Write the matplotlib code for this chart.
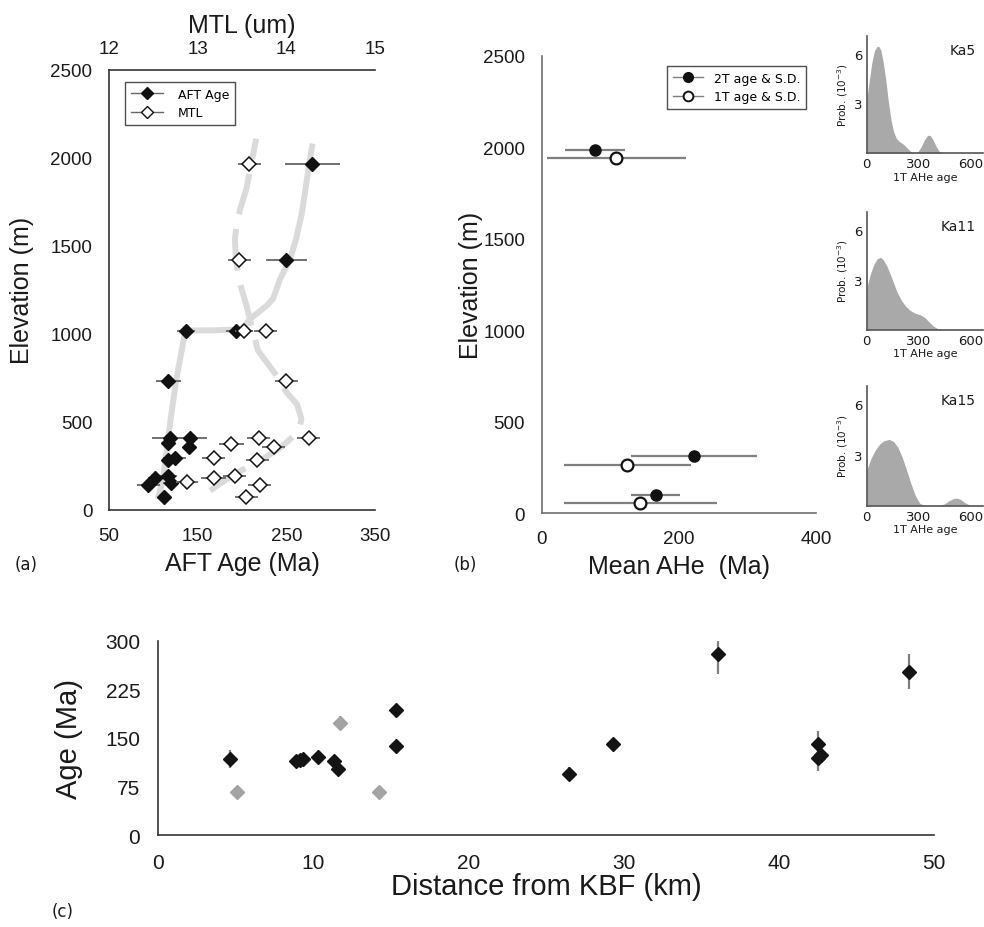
import numpy as np
import matplotlib
matplotlib.use('Agg')
import matplotlib.pyplot as plt
from matplotlib.lines import Line2D

# ---- panel (a): AFT age and MTL against elevation
aft_elev = [1962, 1420, 1015, 1015, 731, 407, 407, 380, 356, 295, 286, 195, 180, 153, 142, 72]
aft_age = [279, 250, 137, 193, 117, 119, 141, 116, 140, 124, 116, 117, 102, 120, 94, 112]
aft_err = [31, 23, 10, 11, 14, 20, 20, 6, 7, 13, 6, 10, 8, 9, 13, 3]

mtl_elev = [1962, 1420, 1015, 1015, 731, 407, 407, 375, 356, 293, 286, 191, 180, 157, 144, 72]
mtl_len = [13.58, 13.47, 13.52, 13.77, 14.00, 14.25, 13.69, 13.38, 13.86, 13.18, 13.67, 13.42, 13.18, 12.88, 13.70, 13.55]
mtl_err = [0.13, 0.13, 0.10, 0.13, 0.13, 0.13, 0.13, 0.14, 0.13, 0.13, 0.13, 0.13, 0.14, 0.12, 0.13, 0.13]

# hand drawn trend lines
trend_age = [105, 111, 116, 120.6, 126, 131, 136, 145, 170, 198, 204, 209, 218, 228, 235, 243, 254, 261, 267, 271, 275.5, 279.6]
trend_age_elev = [62, 176, 380, 556, 744, 880, 1015, 1019, 1020, 1025, 1050, 1085, 1120, 1161, 1199, 1312, 1420, 1540, 1672, 1800, 1956, 2080]
trend_mtl = [13.14, 13.40, 13.74, 13.95, 14.07, 14.15, 14.17, 14.12, 14.00, 13.89, 13.68, 13.55, 13.48, 13.43, 13.42, 13.44, 13.48, 13.55, 13.66]
trend_mtl_elev = [110, 200, 290, 360, 415, 470, 517, 600, 669, 763, 905, 1161, 1280, 1420, 1540, 1620, 1710, 1824, 2108]

# ---- panel (b): mean AHe ages
ahe2_age = [78, 222, 166]
ahe2_elev = [1987, 312, 100]
ahe2_sd = [44, 92, 36]
ahe1_age = [109, 125, 144]
ahe1_elev = [1940, 263, 53]
ahe1_sd = [101, 92, 112]

# ---- probability density plots of single-grain 1T AHe ages
pdf_names = ['Ka5', 'Ka11', 'Ka15']
ka5_age = [0, 15, 30, 45, 60, 70, 82, 95, 110, 125, 140, 155, 170, 185, 200, 215, 235, 255, 270, 280, 295, 315, 335, 352, 367, 382, 400, 418, 435]
ka5_prob = [3.2, 4.4, 5.5, 6.2, 6.45, 6.45, 6.2, 5.5, 4.4, 3.1, 2.0, 1.3, 0.9, 0.72, 0.62, 0.5, 0.28, 0.08, 0.01, 0.0, 0.08, 0.4, 0.85, 1.08, 1.05, 0.8, 0.4, 0.1, 0.0]
ka11_age = [0, 20, 40, 60, 79, 95, 115, 135, 155, 175, 200, 225, 250, 280, 310, 335, 360, 385, 410, 435]
ka11_prob = [2.5, 3.3, 3.9, 4.25, 4.35, 4.2, 3.85, 3.35, 2.8, 2.25, 1.75, 1.4, 1.15, 0.98, 0.88, 0.72, 0.45, 0.2, 0.05, 0.0]
ka15_age = [0, 25, 50, 75, 100, 129, 155, 180, 205, 230, 255, 280, 305, 333, 380, 424, 450, 475, 500, 519, 540, 565, 600]
ka15_prob = [2.1, 2.8, 3.3, 3.65, 3.85, 3.92, 3.8, 3.45, 2.85, 2.1, 1.3, 0.6, 0.15, 0.0, 0.0, 0.02, 0.12, 0.3, 0.42, 0.45, 0.38, 0.18, 0.0]

# ---- panel (c): ages against distance from KBF
dist_black = [4.6, 8.9, 9.1, 9.3, 10.3, 11.3, 11.6, 15.3, 15.3, 26.5, 29.3, 36.1, 42.5, 42.7, 42.5, 48.4]
age_black = [117, 115, 116, 117, 121, 114, 102, 193, 137, 94, 140, 279, 141, 124, 119, 252]
err_black = [14, 3, 3, 3, 4, 5, 5, 7, 4, 11, 3, 30, 20, 8, 20, 27]
dist_gray = [5.1, 11.7, 14.2]
age_gray = [67, 173, 66]
err_gray = [3, 10, 3]

arial = 'Liberation Sans'
verd = 'DejaVu Sans'
ecol = '#7f7f7f'
tcol = '#dadada'

fig = plt.figure(figsize=(9.84, 9.28), dpi=100)

def clean(ax, col='#333333', tsize=13.5, pad=12):
    for s in ['top', 'right']:
        ax.spines[s].set_visible(False)
    for s in ['left', 'bottom']:
        ax.spines[s].set_color(col)
        ax.spines[s].set_linewidth(1.2)
    ax.tick_params(length=0, labelsize=tsize, pad=pad, labelcolor='#1a1a1a')
    for lab in ax.get_xticklabels() + ax.get_yticklabels():
        lab.set_family(arial)

# ---------------- (a)
ax = fig.add_axes([0.1108, 0.4494, 0.2703, 0.4745])
ax.plot(trend_age, trend_age_elev, color=tcol, lw=4.3, solid_capstyle='butt', solid_joinstyle='round', zorder=1)
ax.errorbar(aft_age, aft_elev, xerr=aft_err, fmt='D', ms=6.8, mfc='#111111', mec='#111111',
            ecolor='#666666', elinewidth=1.3, capsize=0, zorder=4)
ax.set_xlim(50, 350)
ax.set_ylim(0, 2500)
ax.set_xticks([50, 150, 250, 350])
ax.set_yticks([0, 500, 1000, 1500, 2000, 2500])
clean(ax, pad=12)
ax.set_xlabel('AFT Age (Ma)', family=arial, fontsize=18, labelpad=5, color='#1a1a1a')
ax.set_ylabel('Elevation (m)', family=arial, fontsize=18, labelpad=12, color='#1a1a1a')

ax2 = ax.twiny()
ax2.plot(trend_mtl, trend_mtl_elev, color=tcol, lw=4.3, dashes=(7, 2.5), solid_capstyle='butt', zorder=1)
ax2.errorbar(mtl_len, mtl_elev, xerr=mtl_err, fmt='D', ms=6.8, mfc='white', mec='#111111', mew=1.1,
             ecolor='#666666', elinewidth=1.3, capsize=0, zorder=4)
ax2.set_xlim(12, 15)
ax2.set_ylim(0, 2500)
ax2.set_xticks([12, 13, 14, 15])
for s in ['right', 'left', 'bottom']:
    ax2.spines[s].set_visible(False)
ax2.spines['top'].set_color('#333333')
ax2.spines['top'].set_linewidth(1.2)
ax2.tick_params(length=0, labelsize=13.5, pad=9, labelcolor='#1a1a1a')
for lab in ax2.get_xticklabels():
    lab.set_family(arial)
ax2.set_xlabel('MTL (um)', family=arial, fontsize=18, labelpad=6, color='#1a1a1a')

ha = [Line2D([], [], color='#666666', lw=1, marker='D', ms=6, mfc='#111111', mec='#111111'),
      Line2D([], [], color='#666666', lw=1, marker='D', ms=6, mfc='white', mec='#111111')]
leg = ax2.legend(ha, ['AFT Age', 'MTL'], loc='upper left', bbox_to_anchor=(0.06, 0.972),
                 prop={'family': verd, 'size': 9}, frameon=True, fancybox=False,
                 handlelength=2.6, borderpad=0.45, labelspacing=0.45, handletextpad=1.2, borderaxespad=0)
leg.get_frame().set_edgecolor('#222222')
leg.get_frame().set_linewidth(1.0)

# ---------------- (b)
bx = fig.add_axes([0.5505, 0.4461, 0.2788, 0.4925])
bx.errorbar(ahe2_age, ahe2_elev, xerr=ahe2_sd, fmt='o', ms=8, mfc='#111111', mec='#111111',
            ecolor=ecol, elinewidth=1.6, capsize=0, zorder=4)
bx.errorbar(ahe1_age, ahe1_elev, xerr=ahe1_sd, fmt='o', ms=8.5, mfc='white', mec='#111111', mew=1.6,
            ecolor=ecol, elinewidth=1.6, capsize=0, zorder=4)
bx.set_xlim(0, 400)
bx.set_ylim(0, 2500)
bx.set_xticks([0, 200, 400])
bx.set_yticks([0, 500, 1000, 1500, 2000, 2500])
clean(bx, col='#6e6e6e', pad=12)
bx.set_xlabel('Mean AHe  (Ma)', family=arial, fontsize=18, labelpad=5, color='#1a1a1a')
bx.set_ylabel('Elevation (m)', family=arial, fontsize=18, labelpad=0, color='#1a1a1a')
hb = [Line2D([], [], color=ecol, lw=1, marker='o', ms=7, mfc='#111111', mec='#111111'),
      Line2D([], [], color=ecol, lw=1, marker='o', ms=7, mfc='white', mec='#111111', mew=1.4)]
leg = bx.legend(hb, ['2T age & S.D.', '1T age & S.D.'], loc='upper right', bbox_to_anchor=(0.965, 0.978),
                prop={'family': verd, 'size': 9}, frameon=True, fancybox=False,
                handlelength=2.4, borderpad=0.45, labelspacing=0.45, handletextpad=0.9, borderaxespad=0)
leg.get_frame().set_edgecolor('#222222')
leg.get_frame().set_linewidth(1.0)

# ---------------- density panels
pdf_ages = [ka5_age, ka11_age, ka15_age]
pdf_probs = [ka5_prob, ka11_prob, ka15_prob]
pdf_rects = [[0.8808, 0.834, 0.1182, 0.1265],
             [0.8808, 0.6438, 0.1182, 0.1272],
             [0.8808, 0.4540, 0.1182, 0.1293]]
for name, a, p, r in zip(pdf_names, pdf_ages, pdf_probs, pdf_rects):
    px = fig.add_axes(r)
    px.fill_between(a, p, 0, color='#a9a9a9', lw=0)
    px.set_xlim(0, 670)
    px.set_ylim(0, 7.1)
    px.set_xticks([0, 300, 600])
    px.set_yticks([3, 6])
    for s in ['top', 'right']:
        px.spines[s].set_visible(False)
    for s in ['left', 'bottom']:
        px.spines[s].set_color('#555555')
        px.spines[s].set_linewidth(1.2)
    px.tick_params(length=0, labelsize=9.5, pad=3, labelcolor='#1a1a1a')
    for lab in px.get_xticklabels() + px.get_yticklabels():
        lab.set_family(verd)
    px.set_xlabel('1T AHe age', family=verd, fontsize=8, labelpad=1, color='#1a1a1a')
    px.set_ylabel('Prob. (10$^{-3}$)', family=verd, fontsize=7.5, labelpad=3, color='#1a1a1a')
    px.text(0.94, 0.88, name, transform=px.transAxes, ha='right', va='center',
            family=verd, fontsize=10, color='#1a1a1a')

# ---------------- (c)
cx = fig.add_axes([0.1609, 0.0991, 0.7883, 0.2094])
cx.errorbar(dist_gray, age_gray, yerr=err_gray, fmt='D', ms=7.2, mfc='#a3a3a3', mec='#a3a3a3',
            ecolor='#a3a3a3', elinewidth=1.6, capsize=0, zorder=3)
cx.errorbar(dist_black, age_black, yerr=err_black, fmt='D', ms=7.2, mfc='#141414', mec='#141414',
            ecolor=ecol, elinewidth=1.6, capsize=0, zorder=4)
cx.set_xlim(0, 50)
cx.set_ylim(0, 300)
cx.set_xticks([0, 10, 20, 30, 40, 50])
cx.set_yticks([0, 75, 150, 225, 300])
clean(cx, col='#333333', tsize=15, pad=13)
cx.set_xlabel('Distance from KBF (km)', family=arial, fontsize=21, labelpad=0, color='#1a1a1a')
cx.set_ylabel('Age (Ma)', family=arial, fontsize=21, labelpad=16, color='#1a1a1a')

# panel letters
fig.text(26 / 984, 1 - 565 / 928, '(a)', ha='center', va='center', family=verd, fontsize=12, color='#1a1a1a')
fig.text(465 / 984, 1 - 565 / 928, '(b)', ha='center', va='center', family=verd, fontsize=12, color='#1a1a1a')
fig.text(63 / 984, 1 - 912 / 928, '(c)', ha='center', va='center', family=verd, fontsize=12, color='#1a1a1a')

fig.savefig('out.png', dpi=100)
